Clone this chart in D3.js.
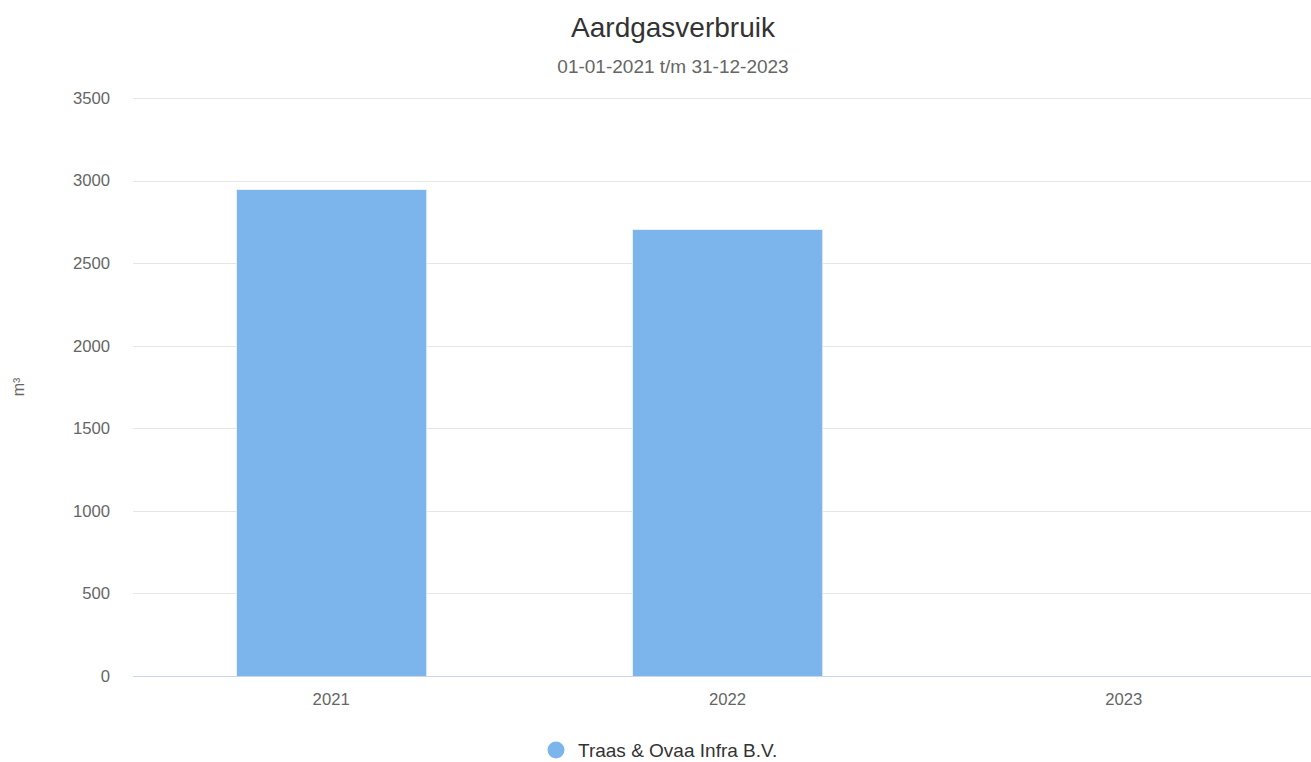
<!DOCTYPE html>
<html>
<head>
<meta charset="utf-8">
<script src="https://cdn.jsdelivr.net/npm/d3@7"></script>
<style>
  html, body { margin: 0; padding: 0; background: #fff; }
  svg { display: block; font-family: "Liberation Sans", Arial, Helvetica, sans-serif; }
</style>
</head>
<body>
<svg id="chart" width="1311" height="762"></svg>
<script>
const categories = ["2021", "2022", "2023"];
const values = [2950, 2705, 0];
const yTicks = [0, 500, 1000, 1500, 2000, 2500, 3000, 3500];
const seriesName = "Traas & Ovaa Infra B.V.";
const titleText = "Aardgasverbruik";
const subtitleText = "01-01-2021 t/m 31-12-2023";
const yAxisTitle = "m³";

const svg = d3.select("#chart");
const W = 1311, H = 762;
const plot = { left: 133, right: 1322, top: 98, bottom: 676 };

const x = d3.scaleBand().domain(categories).range([plot.left, plot.right])
  .paddingInner(0.52).paddingOuter(0.26);
const xCat = d3.scaleBand().domain(categories).range([plot.left, plot.right]).padding(0);
const y = d3.scaleLinear().domain([0, 3500]).range([plot.bottom, plot.top]);

// Title
svg.append("text").attr("x", 673).attr("y", 37).attr("text-anchor", "middle")
  .attr("font-size", 28).attr("fill", "#333").text(titleText);
svg.append("text").attr("x", 673).attr("y", 73).attr("text-anchor", "middle")
  .attr("font-size", 19).attr("fill", "#666").text(subtitleText);

// Grid
const grid = svg.append("g");
grid.selectAll("line").data(yTicks.filter(d => d !== 0)).join("line")
  .attr("x1", plot.left).attr("x2", W)
  .attr("y1", d => Math.round(y(d)) + 0.5).attr("y2", d => Math.round(y(d)) + 0.5)
  .attr("stroke", "#e6e6e6").attr("stroke-width", 1);

// Y axis labels
const yAxis = d3.axisLeft(y).tickValues(yTicks).tickFormat(d3.format("d")).tickSize(0).tickPadding(0);
const yg = svg.append("g").attr("transform", `translate(110,0)`).call(yAxis);
yg.select(".domain").remove();
yg.selectAll("text").attr("font-size", 16.7).attr("fill", "#666")
  .attr("font-family", "Liberation Sans, Arial, sans-serif");

// Y axis title
svg.append("text").attr("transform", `translate(24,387) rotate(-90)`)
  .attr("text-anchor", "middle").attr("font-size", 16).attr("fill", "#666").text(yAxisTitle);

// Bars
svg.append("g").selectAll("rect").data(categories.map((c, i) => ({ c, v: values[i] })).filter(d => d.v > 0))
  .join("rect")
  .attr("x", d => Math.round(x(d.c)) + 0.5)
  .attr("y", d => Math.round(y(d.v)) + 0.5)
  .attr("width", x.bandwidth())
  .attr("height", d => y(0) - Math.round(y(d.v)))
  .attr("fill", "#7cb5ec").attr("stroke", "#e8f0f8").attr("stroke-width", 1);

// X axis line
svg.append("line").attr("x1", plot.left).attr("x2", W)
  .attr("y1", plot.bottom + 0.5).attr("y2", plot.bottom + 0.5)
  .attr("stroke", "#ccd6eb").attr("stroke-width", 1);

// X axis labels
const xAxis = d3.axisBottom(xCat).tickSize(0).tickPadding(0);
const xg = svg.append("g").attr("transform", `translate(0,${plot.bottom})`).call(xAxis);
xg.select(".domain").remove();
xg.selectAll("text").attr("font-size", 16.7).attr("fill", "#666").attr("dy", null)
  .attr("y", 29).attr("font-family", "Liberation Sans, Arial, sans-serif");

// Legend
const lg = svg.append("g");
lg.append("circle").attr("cx", 556).attr("cy", 750).attr("r", 8.5).attr("fill", "#7cb5ec");
lg.append("text").attr("x", 578).attr("y", 757).attr("font-size", 19).attr("fill", "#333").text(seriesName);
</script>
</body>
</html>
